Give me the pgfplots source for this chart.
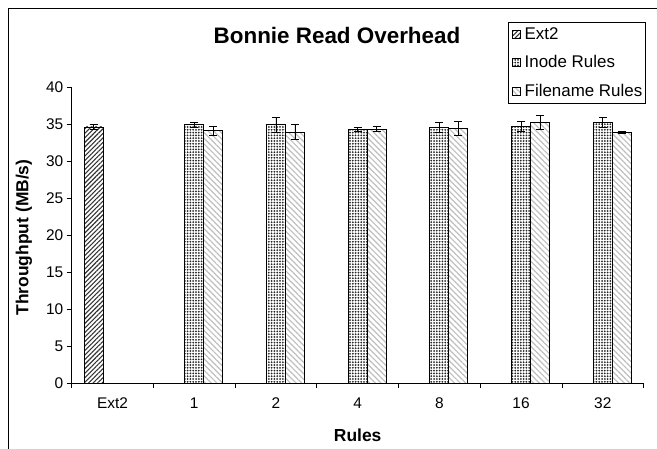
\documentclass[border=0pt]{standalone}
\usepackage{pgfplots}
\pgfplotsset{compat=1.18}
\usepackage{fontspec}
\setmainfont{Liberation Sans}
\usetikzlibrary{patterns.meta}

\begin{document}
\begin{tikzpicture}[x=1bp,y=1bp]
\useasboundingbox (0,0) rectangle (657,449);
\draw[line width=0.9bp] (8,-5) -- (8,441) -- (662,441);
\begin{axis}[
  at={(71.7bp,66bp)}, anchor=south west,
  width=571.9bp, height=296bp, scale only axis,
  xmin=-0.5, xmax=6.5, ymin=0, ymax=40,
  axis x line*=bottom, axis y line*=left,
  axis line style={line width=0.8bp, black, -},
  xtick={0,...,6}, xticklabels={Ext2,1,2,4,8,16,32},
  minor xtick={-0.5,0.5,...,6.5},
  ytick={0,5,...,40},
  tick align=outside,
  major tick length=5bp, minor tick length=5bp,
  major x tick style={draw=none},
  minor x tick style={line width=0.8bp, black},
  ytick style={line width=0.8bp, black},
  tick label style={font=\fontsize{15.5}{17}\selectfont},
  xticklabel style={yshift=-6bp},
  /pgf/number format/assume math mode=true,
  xlabel={Rules},
  ylabel={Throughput (MB/s)},
  label style={font=\bfseries\fontsize{17.5}{19}\selectfont},
  xlabel style={at={(axis description cs:0.5,-0.1757)}, anchor=center},
  ylabel style={at={(axis description cs:-0.0834,0.4916)}, anchor=center},
  ybar, bar width=19bp,
  error bars/error bar style={line width=0.9bp, black},
  error bars/error mark options={rotate=90, mark size=4bp, line width=0.9bp, black},
  legend style={at={(rel axis cs:1.0037,1.2196)}, anchor=north east,
    draw=black, line width=0.8bp, font=\fontsize{17}{19}\selectfont,
    row sep=11bp, inner xsep=2bp, inner ysep=3bp, legend cell align=left,
    nodes={inner xsep=1bp}},
  legend image code/.code={\draw[#1, line width=0.6bp] (1bp,-4bp) rectangle (9bp,4bp); \path (0bp,0bp) (12bp,0bp);},
]
\addplot[bar shift=-19bp, draw=black, line width=0.8bp,
  pattern={Lines[angle=45, distance=3.2bp, line width=1.1bp]}, pattern color=black!80,
  error bars/.cd, y dir=both, y explicit]
  table[x=x, y=y, y error=e] {
x y e
0 34.6 0.3
};
\addlegendentry{Ext2}
\addplot[bar shift=0bp, draw=black, line width=0.8bp,
  pattern={Dots[distance=2.8bp, radius=1bp]}, pattern color=black!85,
  error bars/.cd, y dir=both, y explicit]
  table[x=x, y=y, y error=e] {
x y e
1 34.9 0.3
2 34.9 1.0
3 34.3 0.25
4 34.5 0.7
5 34.7 0.7
6 35.2 0.7
};
\addlegendentry{Inode Rules}
\addplot[bar shift=19bp, draw=black, line width=0.8bp,
  pattern={Lines[angle=-45, distance=4bp, line width=1.2bp]}, pattern color=black!25,
  error bars/.cd, y dir=both, y explicit]
  table[x=x, y=y, y error=e] {
x y e
1 34.1 0.6
2 33.9 1.0
3 34.3 0.35
4 34.4 0.95
5 35.2 0.95
6 33.9 0.15
};
\addlegendentry{Filename Rules}
\end{axis}
\node[font=\bfseries\fontsize{22.5}{25}\selectfont] at (337,414) {Bonnie Read Overhead};
\end{tikzpicture}
\end{document}
